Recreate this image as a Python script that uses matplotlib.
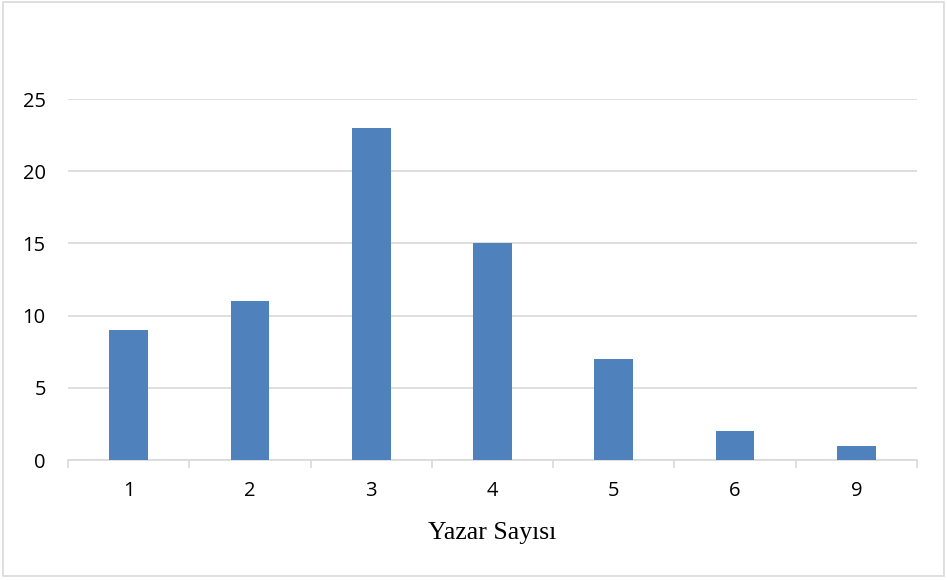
import matplotlib
matplotlib.use("Agg")
import matplotlib.pyplot as plt
from matplotlib.patches import Rectangle

categories = ["1", "2", "3", "4", "5", "6", "9"]
values = [9, 11, 23, 15, 7, 2, 1]
y_ticks = [0, 5, 10, 15, 20, 25]

fig = plt.figure(figsize=(9.47, 5.8), dpi=100)
ax = fig.add_axes([68 / 947, 1 - 460 / 580, 849 / 947, 361 / 580])

x = range(len(categories))
ax.bar(x, values, width=0.32, color="#4F81BD", zorder=3)
ax.set_xlim(-0.5, len(categories) - 0.5)
ax.set_ylim(0, 25)
ax.set_yticks(y_ticks)
ax.set_xticks(list(x))
ax.set_xticklabels(categories)
# ticks between categories
ax.set_xticks([i - 0.5 for i in range(len(categories) + 1)], minor=True)
ax.tick_params(axis="x", which="major", length=0, pad=15, labelsize=14.5)
ax.tick_params(axis="x", which="minor", length=6, color="#D9D9D9", width=1.2)
ax.tick_params(axis="y", length=0, pad=16, labelsize=14.5)
for lbl in ax.get_xticklabels() + ax.get_yticklabels():
    lbl.set_fontfamily("Open Sans")
ax.grid(axis="y", color="#D9D9D9", linewidth=1.2, zorder=0)
for s in ["top", "right", "left"]:
    ax.spines[s].set_visible(False)
ax.spines["bottom"].set_color("#D9D9D9")
ax.spines["bottom"].set_linewidth(1.2)
ax.set_xlabel("Yazar Sayısı", fontfamily="Liberation Serif", fontsize=18.5, labelpad=15)

# chart border
fig.patches.append(Rectangle((3 / 947, 4 / 580), 941 / 947, 574 / 580, transform=fig.transFigure,
                             fill=False, edgecolor="#D9D9D9", linewidth=1.2))

fig.savefig("out.png", dpi=100)
